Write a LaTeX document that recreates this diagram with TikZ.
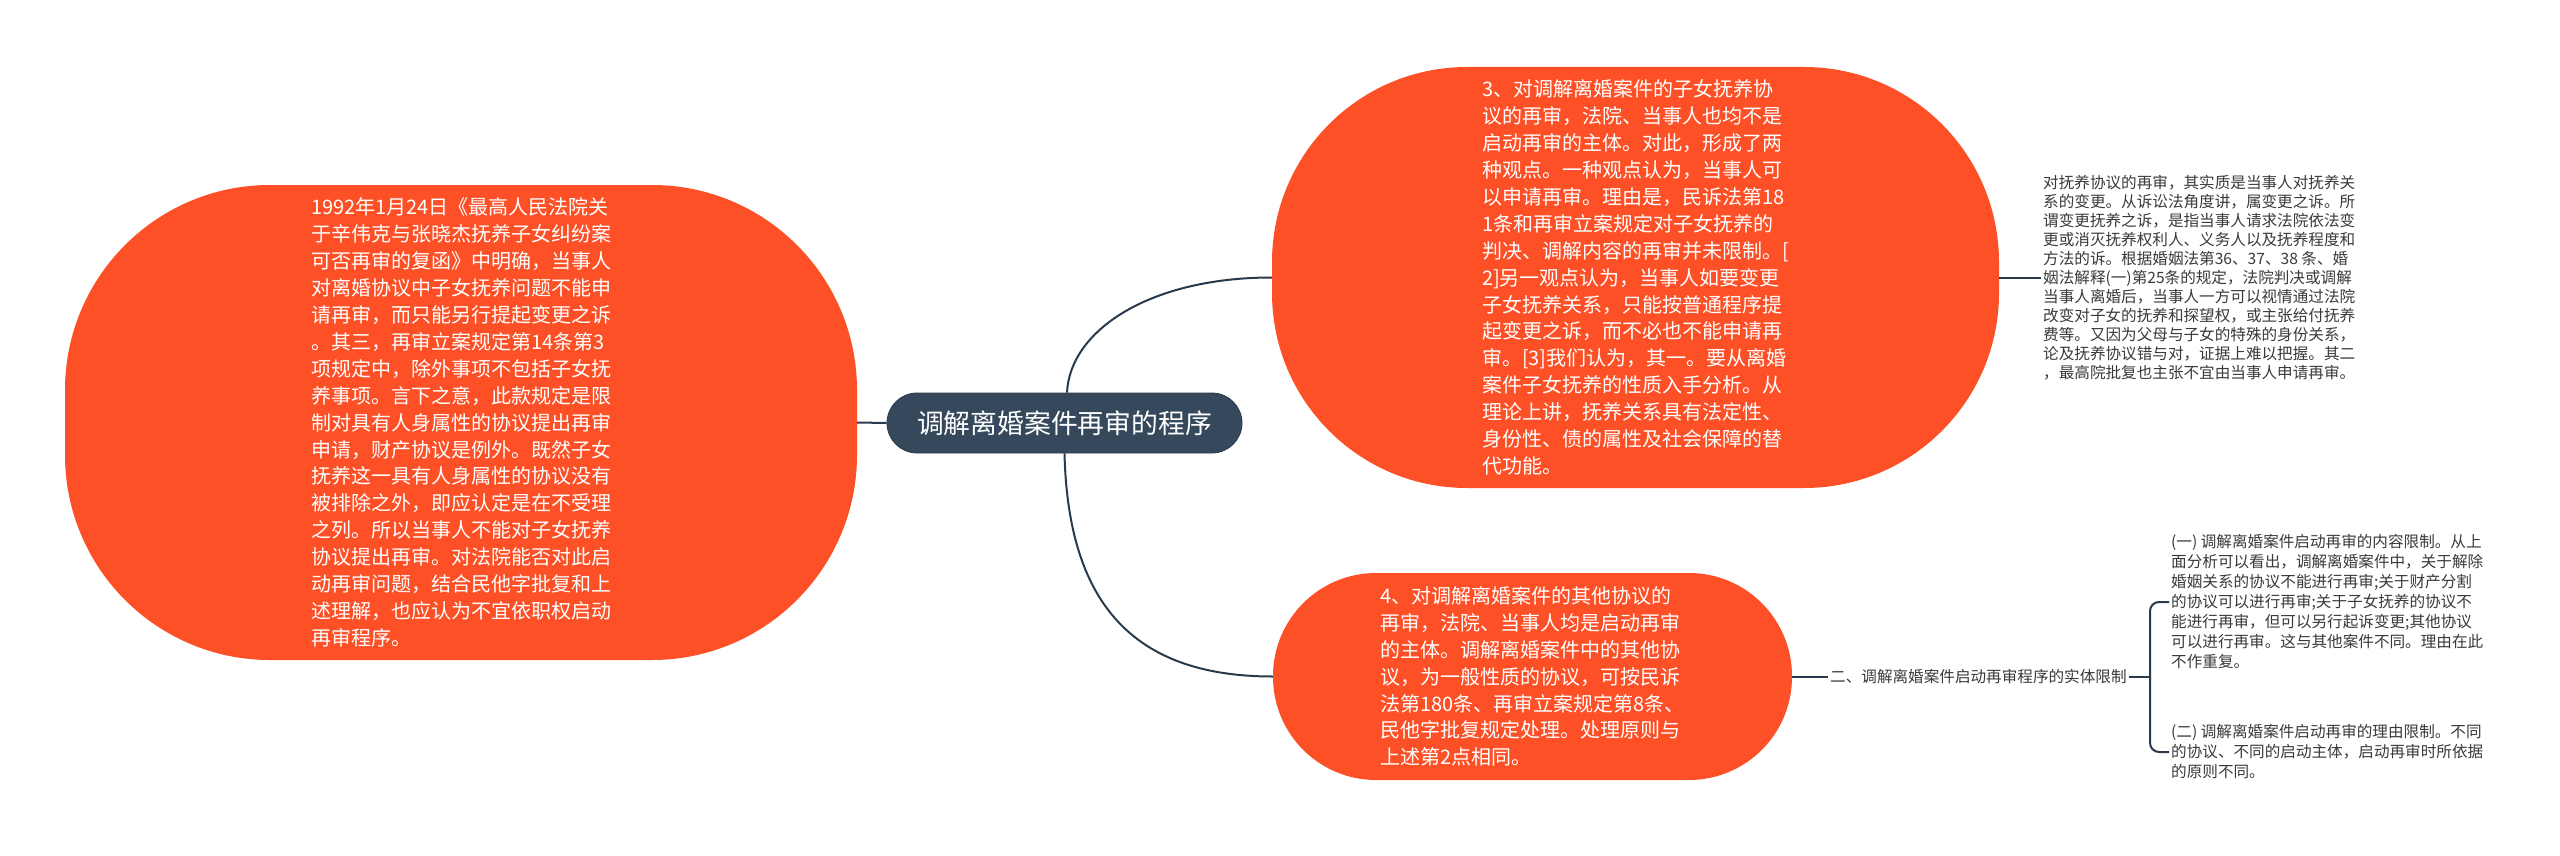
\documentclass[tikz,border=0pt]{standalone}
\usepackage{fontspec}
\setmainfont{Noto Sans CJK SC}
\usetikzlibrary{calc}
\definecolor{orangeA}{HTML}{FD5027}
\definecolor{slateA}{HTML}{36495C}
\definecolor{lineA}{HTML}{283A4C}
\definecolor{txtA}{HTML}{3A3A3A}
\begin{document}
\begin{tikzpicture}[x=1pt,y=-1pt,
  bigbox/.style={fill=orangeA, text=white, align=left, inner sep=0pt,
    font=\fontsize{20}{26.9}\selectfont},
  rootbox/.style={fill=slateA, draw=slateA!80!black, line width=0.8pt, text=white,
    inner sep=0pt, rounded corners=30pt, minimum width=355pt, minimum height=60pt,
    font=\fontsize{26.8}{32}\selectfont},
  smalltxt/.style={text=txtA, align=left, inner sep=2pt, anchor=west,
    font=\fontsize{15.6}{19.5}\selectfont},
  conn/.style={draw=lineA, line width=2pt}
]
\useasboundingbox (0,0) rectangle (2560,856);
\fill[white] (0,0) rectangle (2560,856);

% root
\node[rootbox] (root) at (1064.5,423) {调解离婚案件再审的程序};

% left big shape
\node[bigbox, rounded corners=205pt, minimum width=792pt, minimum height=475pt]
  (L) at (461,422.5) {1992年1月24日《最高人民法院关\\
于辛伟克与张晓杰抚养子女纠纷案\\
可否再审的复函》中明确，当事人\\
对离婚协议中子女抚养问题不能申\\
请再审，而只能另行提起变更之诉\\
。其三，再审立案规定第14条第3\\
项规定中，除外事项不包括子女抚\\
养事项。言下之意，此款规定是限\\
制对具有人身属性的协议提出再审\\
申请，财产协议是例外。既然子女\\
抚养这一具有人身属性的协议没有\\
被排除之外，即应认定是在不受理\\
之列。所以当事人不能对子女抚养\\
协议提出再审。对法院能否对此启\\
动再审问题，结合民他字批复和上\\
述理解，也应认为不宜依职权启动\\
再审程序。};

% top right big shape
\node[bigbox, rounded corners=195pt, minimum width=727pt, minimum height=421pt]
  (TR) at (1635.5,277.5) {3、对调解离婚案件的子女抚养协\\
议的再审，法院、当事人也均不是\\
启动再审的主体。对此，形成了两\\
种观点。一种观点认为，当事人可\\
以申请再审。理由是，民诉法第18\\
1条和再审立案规定对子女抚养的\\
判决、调解内容的再审并未限制。[\\
2]另一观点认为，当事人如要变更\\
子女抚养关系，只能按普通程序提\\
起变更之诉，而不必也不能申请再\\
审。[3]我们认为，其一。要从离婚\\
案件子女抚养的性质入手分析。从\\
理论上讲，抚养关系具有法定性、\\
身份性、债的属性及社会保障的替\\
代功能。};

% bottom big shape
\node[bigbox, rounded corners=103pt, minimum width=519pt, minimum height=207pt]
  (B) at (1532.5,676.5) {4、对调解离婚案件的其他协议的\\
再审，法院、当事人均是启动再审\\
的主体。调解离婚案件中的其他协\\
议，为一般性质的协议，可按民诉\\
法第180条、再审立案规定第8条、\\
民他字批复规定处理。处理原则与\\
上述第2点相同。};

% right text of TR
\node[smalltxt, font=\fontsize{15.6}{19}\selectfont] (RT) at (2041,277.5) {对抚养协议的再审，其实质是当事人对抚养关\\
系的变更。从诉讼法角度讲，属变更之诉。所\\
谓变更抚养之诉，是指当事人请求法院依法变\\
更或消灭抚养权利人、义务人以及抚养程度和\\
方法的诉。根据婚姻法第36、37、38 条、婚\\
姻法解释(一)第25条的规定，法院判决或调解\\
当事人离婚后，当事人一方可以视情通过法院\\
改变对子女的抚养和探望权，或主张给付抚养\\
费等。又因为父母与子女的特殊的身份关系，\\
论及抚养协议错与对，证据上难以把握。其二\\
，最高院批复也主张不宜由当事人申请再审。};

% label under B
\node[smalltxt] (LB) at (1828,676.5) {二、调解离婚案件启动再审程序的实体限制};
\coordinate (BR) at (2150,676.5);

\node[smalltxt, font=\fontsize{15.6}{20}\selectfont] (T1) at (2169,602) {(一) 调解离婚案件启动再审的内容限制。从上\\
面分析可以看出，调解离婚案件中，关于解除\\
婚姻关系的协议不能进行再审;关于财产分割\\
的协议可以进行再审;关于子女抚养的协议不\\
能进行再审，但可以另行起诉变更;其他协议\\
可以进行再审。这与其他案件不同。理由在此\\
不作重复。};
\node[smalltxt, font=\fontsize{15.6}{20}\selectfont] (T2) at (2169,752) {(二) 调解离婚案件启动再审的理由限制。不同\\
的协议、不同的启动主体，启动再审时所依据\\
的原则不同。};

% connectors
\draw[conn] (L.east) -- (root.west);
\draw[conn] ($(root.north)+(2.5,0)$) .. controls (1070,330) and (1150,277.5) .. (TR.west);
\draw[conn] (root.south) .. controls (1068,600) and (1130,676.5) .. (B.west);
\draw[conn] (TR.east) -- (RT.west);
\draw[conn] (B.east) -- (LB.west);
\draw[conn] (LB.east) -- (BR);
\draw[conn, rounded corners=9pt] (T1.west) -| (BR) |- (T2.west);
\end{tikzpicture}
\end{document}
